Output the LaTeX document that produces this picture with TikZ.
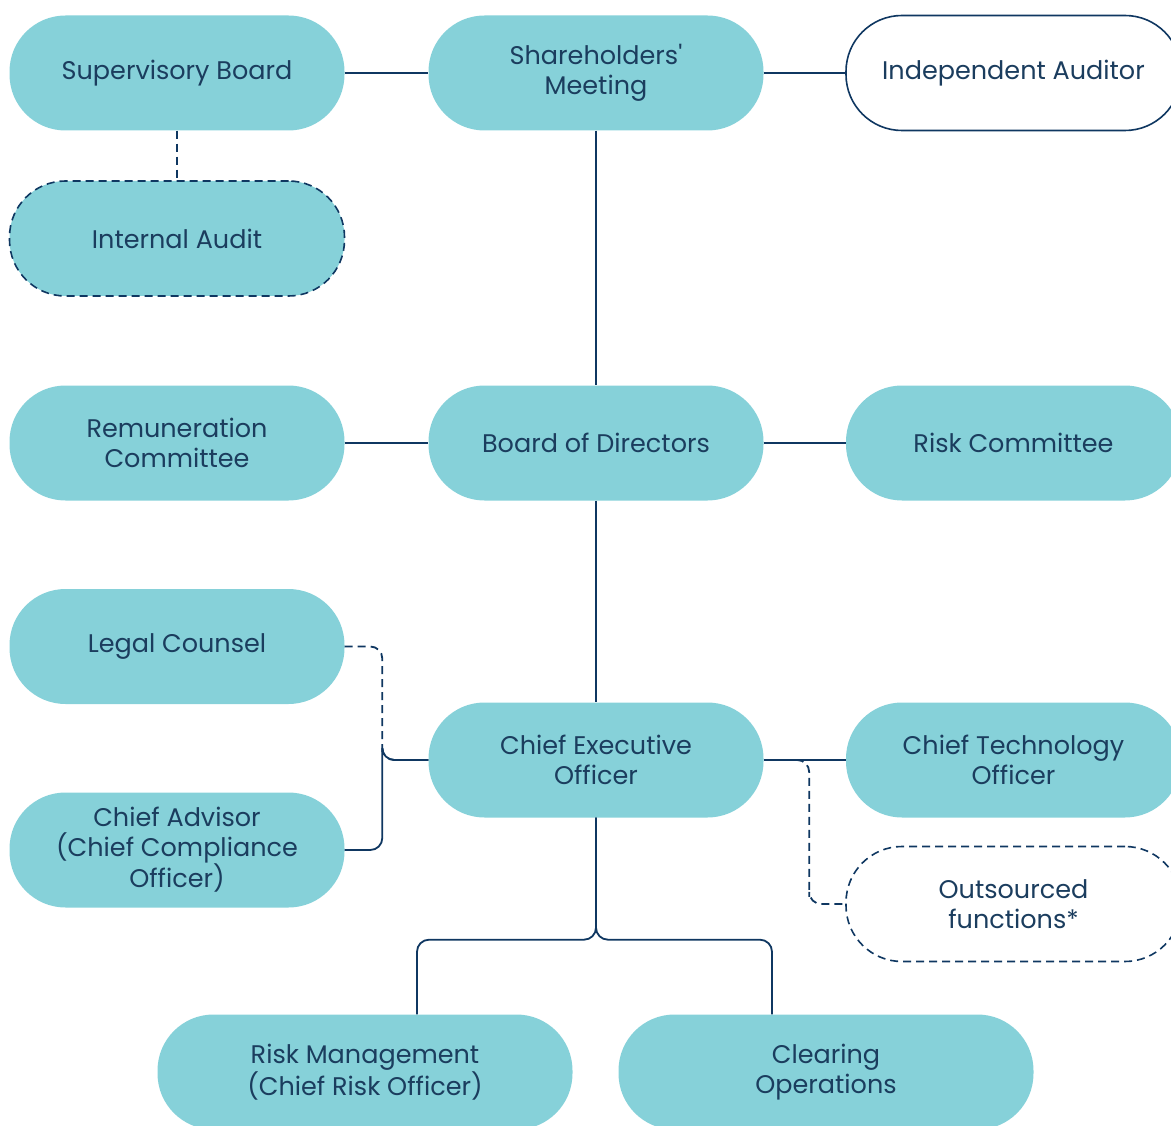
\documentclass[tikz,border=0pt]{standalone}
\usepackage{fontspec}
\setmainfont{Poppins}[Ligatures=TeXOff]
\usetikzlibrary{positioning}
\definecolor{pillfill}{HTML}{86D1D9}
\definecolor{navy}{HTML}{0F3761}
\definecolor{txt}{HTML}{1B3D5E}
\tikzset{
  pill/.style={rectangle, rounded corners=56pt, minimum width=335pt, minimum height=115pt,
    align=center, text=txt, font=\fontsize{25.5}{29.5}\selectfont, inner sep=0pt},
  filled/.style={pill, fill=pillfill},
  wide/.style={filled, minimum width=415pt},
  outlined/.style={pill, draw=navy, line width=1.6pt, fill=white},
  dashedpill/.style={pill, draw=navy, line width=1.6pt, dash pattern=on 8pt off 5pt},
  conn/.style={draw=navy, line width=1.8pt, rounded corners=12pt},
  dconn/.style={conn, dash pattern=on 8pt off 5pt},
}
\begin{document}
\begin{tikzpicture}[x=1pt,y=1pt]
\useasboundingbox (0,0) rectangle (1171,-1126);
\node[filled] (sb) at (177,-73) {Supervisory Board};
\node[filled] (sm) at (596,-73) {Shareholders'\\Meeting};
\node[outlined] (ia) at (1013.5,-73) {Independent Auditor};
\node[dashedpill, fill=pillfill] (iau) at (177,-238.5) {Internal Audit};
\node[filled] (rc) at (177,-443) {Remuneration\\Committee};
\node[filled] (bod) at (596,-443) {Board of Directors};
\node[filled] (rk) at (1013.5,-443) {Risk Committee};
\node[filled] (lc) at (177,-646.5) {Legal Counsel};
\node[filled] (ceo) at (596,-760) {Chief Executive\\Officer};
\node[filled] (cto) at (1013.5,-760) {Chief Technology\\Officer};
\node[filled] (ca) at (177,-850) {Chief Advisor\\(Chief Compliance\\Officer)};
\node[dashedpill] (os) at (1013.5,-904) {Outsourced\\functions*};
\node[wide] (rm) at (365,-1072) {Risk Management\\(Chief Risk Officer)};
\node[wide] (co) at (826,-1072) {Clearing\\Operations};

\draw[conn] (sb.east) -- (sm.west);
\draw[conn] (sm.east) -- (ia.west);
\draw[dconn] (sb.south) -- (iau.north);
\draw[conn] (sm.south) -- (bod.north);
\draw[conn] (rc.east) -- (bod.west);
\draw[conn] (bod.east) -- (rk.west);
\draw[conn] (bod.south) -- (ceo.north);
\draw[conn] (ceo.east) -- (cto.west);
\draw[dconn] (lc.east) -| ([xshift=-46pt]ceo.west) |- (ceo.west);
\draw[conn] (ca.east) -| ([xshift=-46pt]ceo.west) |- (ceo.west);
\draw[dconn] ([xshift=35pt]ceo.east) -| ([xshift=-36pt]os.west) |- (os.west);
\draw[conn] (ceo.south) -- ([yshift=-122pt]ceo.south) -| ([xshift=52pt]rm.north);
\draw[conn] (ceo.south) -- ([yshift=-122pt]ceo.south) -| ([xshift=-54pt]co.north);
\end{tikzpicture}
\end{document}
